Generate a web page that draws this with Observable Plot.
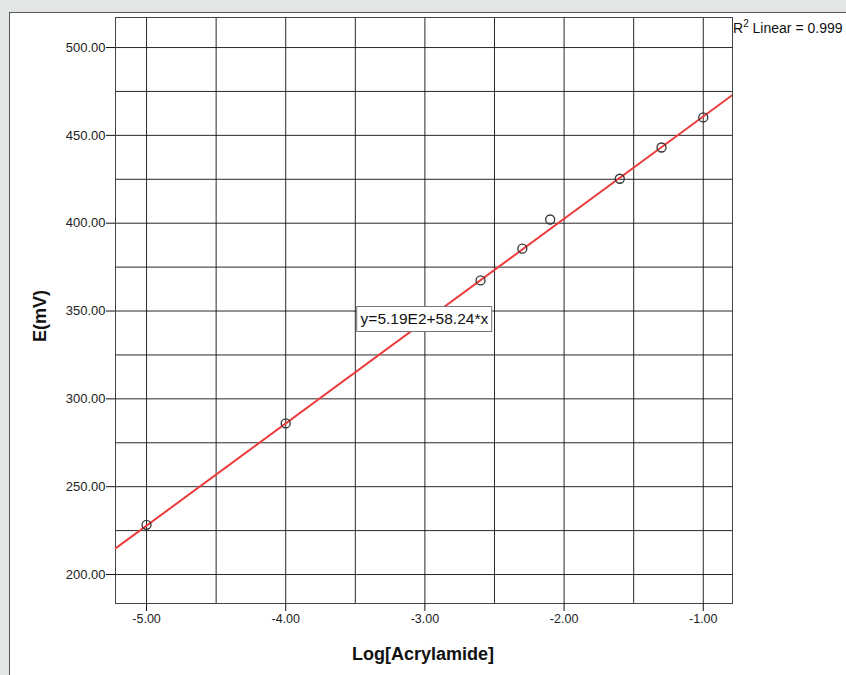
<!DOCTYPE html>
<html>
<head>
<meta charset="utf-8">
<script src="https://cdn.jsdelivr.net/npm/d3@7"></script>
<script src="https://cdn.jsdelivr.net/npm/@observablehq/plot@0.6"></script>
<style>
  html, body { margin: 0; padding: 0; width: 846px; height: 675px; overflow: hidden; background: #e2e6e6; font-family: "Liberation Sans", Arial, sans-serif; }
  #panel { position: absolute; left: 9px; top: 12px; width: 900px; height: 700px; background: #fff; border: 1px solid #555; }
  #chart { position: absolute; left: 0; top: 0; }
  .lbl { position: absolute; color: #111; white-space: nowrap; }
</style>
</head>
<body>
<div id="panel"></div>
<div id="chart"></div>
<script>
// Data
const logConc = [-5.0, -4.0, -2.6, -2.3, -2.1, -1.6, -1.3, -1.0];
const potential = [228.3, 286.0, 367.4, 385.5, 402.1, 425.3, 443.1, 460.2];
const fitIntercept = 519;   // 5.19E2
const fitSlope = 58.24;
const fitLabel = "y=5.19E2+58.24*x";
const r2Label = "0.999";
const xTicks = [-5, -4, -3, -2, -1];
const yTicks = [200, 250, 300, 350, 400, 450, 500];
const xGrid = [-5, -4.5, -4, -3.5, -3, -2.5, -2, -1.5, -1];
const yGrid = [200, 225, 250, 275, 300, 325, 350, 375, 400, 425, 450, 475, 500];
const xDomain = [-5.223, -0.79];
const yDomain = [183.5, 517.1];

const points = logConc.map((x, i) => ({x, y: potential[i]}));
const fitLine = xDomain.map(x => ({x, y: fitIntercept + fitSlope * x}));

const W = 846, H = 675;
const plot = Plot.plot({
  width: W, height: H,
  marginLeft: 115, marginRight: 114, marginTop: 17, marginBottom: 72,
  style: {background: "transparent", fontFamily: "Liberation Sans, Arial, sans-serif", fontSize: "13px", color: "#222"},
  x: {domain: xDomain},
  y: {domain: yDomain},
  marks: [
    Plot.gridX(xGrid, {stroke: "#111", strokeOpacity: 0.9, strokeWidth: 1}),
    Plot.gridY(yGrid, {stroke: "#111", strokeOpacity: 0.9, strokeWidth: 1}),
    Plot.frame({stroke: "#444", strokeWidth: 1}),
    Plot.axisX(xTicks, {tickSize: 8, tickPadding: 3, tickFormat: d => d.toFixed(2), label: null, stroke: "#111", fill: "#222", fontSize: 12.5}),
    Plot.axisY(yTicks, {tickSize: 9, tickPadding: 1, tickFormat: d => d.toFixed(2), label: null, stroke: "#111", fill: "#222", fontSize: 13}),
    Plot.line(fitLine, {x: "x", y: "y", stroke: "#ee3b3b", strokeWidth: 2, clip: true}),
    Plot.dot(points, {x: "x", y: "y", r: 4.5, stroke: "#333", strokeWidth: 1.3, fill: "none"})
  ]
});
document.getElementById("chart").appendChild(plot);

const sx = plot.scale("x"), sy = plot.scale("y");
const chart = document.getElementById("chart");
function addLabel(html, css) {
  const d = document.createElement("div");
  d.className = "lbl";
  d.innerHTML = html;
  Object.assign(d.style, css);
  chart.appendChild(d);
  return d;
}
// Equation box
addLabel(fitLabel, {
  left: sx.apply(-3) + "px", top: sy.apply(345) + "px", transform: "translate(-50%,-50%)",
  background: "#fff", border: "1px solid #777", padding: "1px 3px", fontSize: "15.5px", lineHeight: "22px"
});
// R squared
addLabel('R<sup style="font-size:10px;vertical-align:6px;line-height:0">2</sup> Linear = ' + r2Label, {
  left: "733px", top: "20px", fontSize: "14px"
});
// Axis titles
addLabel("Log[Acrylamide]", {left: "423px", top: "654px", transform: "translate(-50%,-50%)", fontSize: "18px", fontWeight: "bold"});
addLabel("E(mV)", {left: "40px", top: "316px", transform: "translate(-50%,-50%) rotate(-90deg)", fontSize: "18px", fontWeight: "bold"});
</script>
</body>
</html>
